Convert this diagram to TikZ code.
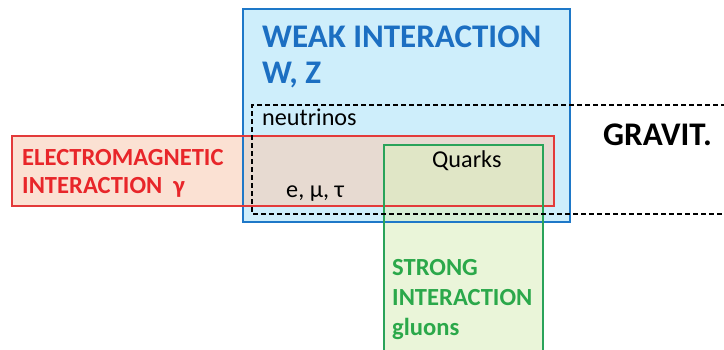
\documentclass[tikz,border=0pt]{standalone}
\usepackage{fontspec}
\setmainfont{Carlito}
\definecolor{wkB}{HTML}{1E78C8}
\definecolor{wkF}{HTML}{C2EAFA}
\definecolor{emB}{HTML}{E33A3A}
\definecolor{emF}{HTML}{F9CDB6}
\definecolor{stB}{HTML}{2AA35A}
\definecolor{stF}{HTML}{DCEFC0}
\definecolor{wkT}{HTML}{1C6FC2}
\definecolor{emT}{HTML}{E8262A}
\definecolor{stT}{HTML}{2BA84A}
\begin{document}
\begin{tikzpicture}[x=1pt,y=-1pt,
  boxline/.style={line width=1.6pt},
  lbl/.style={inner sep=0pt,anchor=base west},
  big/.style={lbl,font=\fontsize{33}{38}\selectfont\bfseries},
  mid/.style={lbl,font=\fontsize{24.6}{28}\selectfont\bfseries},
  small/.style={lbl,font=\fontsize{24.2}{28}\selectfont}]
\useasboundingbox (0,0) rectangle (724,349);
% weak
\fill[wkF,fill opacity=0.8] (243,9) rectangle (570,222);
% electromagnetic
\fill[emF,fill opacity=0.6] (12,136) rectangle (554,206);
% strong
\fill[stF,fill opacity=0.6] (384,145) rectangle (543,352);
\draw[boxline,wkB] (243,9) rectangle (570,222);
\draw[boxline,emB] (12,136) rectangle (554,206);
\draw[boxline,stB] (384,352) -- (384,145) -- (543,145) -- (543,352);
% gravitation
\draw[line width=1.5pt,dash pattern=on 5pt off 3pt] (726,105) -- (252,105) -- (252,214) -- (726,214);
% labels
\node[big,text=wkT] (weak) at (262,47) {WEAK INTERACTION};
\node[big,text=wkT] (wz) at (262,83) {W, Z};
\node[small] (nu) at (262,125) {neutrinos};
\node[small] (qk) at (432,167) {Quarks};
\node[small] (lep) at (286,197) {e, μ, τ};
\node[mid,text=emT] (em1) at (22,165) {ELECTROMAGNETIC};
\node[mid,text=emT] (em2) at (22,193) {INTERACTION\ \ γ};
\node[big] (grav) at (603,145) {GRAVIT.};
\node[mid,text=stT] (st1) at (392,275) {STRONG};
\node[mid,text=stT] (st2) at (392,305) {INTERACTION};
\node[mid,text=stT] (st3) at (392,335) {gluons};
\end{tikzpicture}
\end{document}
